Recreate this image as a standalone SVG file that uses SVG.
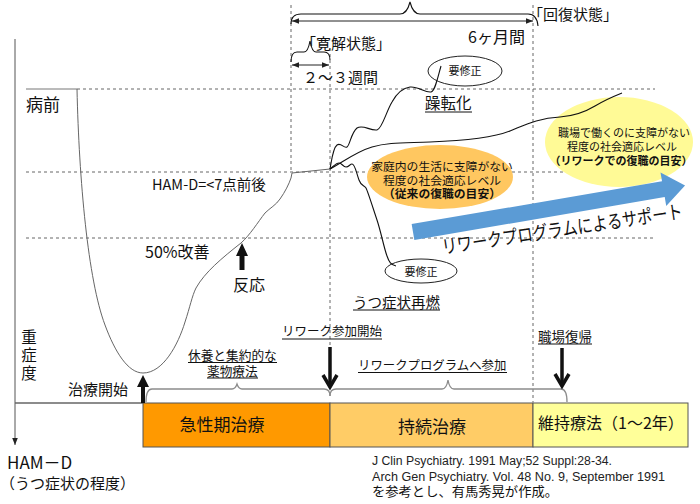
<svg xmlns="http://www.w3.org/2000/svg" width="700" height="504" viewBox="0 0 700 504">
<defs>
<marker id="ah" viewBox="0 0 10 10" refX="10" refY="5" markerWidth="7" markerHeight="7" markerUnits="userSpaceOnUse" orient="auto-start-reverse"><path d="M0,1 L10,5 L0,9 Z" fill="#222"/></marker>
<style>
.jp{font-family:"Noto Sans CJK JP","Noto Sans",sans-serif;fill:#111}
.lat{font-family:"Liberation Sans",Arial,sans-serif;fill:#222}
.dash{stroke:#666;stroke-width:1;stroke-dasharray:3,3;fill:none}
.curve{stroke:#111;stroke-width:1.1;fill:none}
.ucurve{stroke:#666;stroke-width:1;fill:none}
.brace{stroke:#8c8c8c;stroke-width:1.3;fill:none}
.ul{stroke:#111;stroke-width:1}
.box{stroke:#555;stroke-width:1}
.mid{text-anchor:middle}
</style>
</defs>
<rect width="700" height="504" fill="#fff"/>

<g id="grid">
<line x1="26" y1="89" x2="77" y2="89" stroke="#777" stroke-width="1"/>
<line class="dash" x1="77" y1="89" x2="655" y2="89"/>
<line class="dash" x1="26" y1="172" x2="655" y2="172"/>
<line class="dash" x1="26" y1="238" x2="655" y2="238"/>
<line class="dash" x1="291" y1="5" x2="291" y2="172"/>
<line class="dash" x1="330" y1="48" x2="330" y2="347"/>
<line class="dash" x1="533" y1="5" x2="533" y2="402"/>
</g>

<g id="axis">
<line x1="15" y1="39" x2="15" y2="445" stroke="#555" stroke-width="1" marker-end="url(#ah)"/>
<line x1="15" y1="403" x2="143" y2="403" stroke="#666" stroke-width="1.5"/>
</g>

<g id="ellipse-home">
<ellipse cx="440" cy="177" rx="73" ry="32" fill="#FFC760"/>
<text class="jp mid" x="442" y="171" font-size="11.8">家庭内の生活に支障がない</text>
<text class="jp mid" x="442" y="184.5" font-size="11.8">程度の社会適応レベル</text>
<text class="jp mid" x="442" y="198" font-size="11.8" font-weight="bold">（従来の復職の目安）</text>
</g>

<g id="ellipse-work">
<ellipse cx="619" cy="142" rx="74" ry="45" fill="#FFFA96"/>
<text class="jp mid" x="624" y="137" font-size="11">職場で働くのに支障がない</text>
<text class="jp mid" x="622" y="151" font-size="11">程度の社会適応レベル</text>
<text class="jp mid" x="621" y="164.5" font-size="11" font-weight="bold">（リワークでの復職の目安）</text>
</g>

<g id="box-acute">
<rect class="box" x="143" y="403" width="187" height="44" fill="#FF9900"/>
<text class="jp mid" x="222" y="431" font-size="17">急性期治療</text>
</g>
<g id="box-continue">
<rect class="box" x="330" y="403" width="203" height="44" fill="#FFCC66"/>
<text class="jp mid" x="432" y="433" font-size="17">持続治療</text>
</g>
<g id="box-maintain">
<rect class="box" x="533" y="403" width="155" height="44" fill="#FFFF99"/>
<text class="jp mid" x="611" y="429" font-size="16">維持療法（1～2年）</text>
</g>

<g id="connectors">
<path class="ucurve" d="M77,89 C79,180 88,280 105,325 C115,352 128,373 143,373 C163,373 178,345 185,322 C190,307 192,296 196,288 C205,272 222,258 241,243 C250,235 258,222 265,213 C270,208 276,205 280,199 C285,192 289,184 291,178 L292,173 L330,169"/>
<path class="curve" d="M330,169 C332,158 333,148 337,145 C341,142 344,149 347,147 C350,145 351,133 357,128 C363,124 370,131 377,130 C382,129 386,112 392,102 C397,93 402,88 410,87 C418,86 425,93 431,92 C435,91 437,80 441,66"/>
<path class="curve" d="M330,169 C342,163 355,152 372,147 C388,142 405,143 430,142 C460,141 490,139 510,131 C525,125 538,118 560,117 C575,116 585,112 595,106 C605,100 612,97 622,93"/>
<path class="curve" d="M330,169 C334,166 336,163 339,163 C342,163 343,167 346,167 C349,167 350,164 352,164 C355,164 356,172 359,180 C361,186 364,185 366,188 C368,192 372,205 377,220 C381,232 384,248 387,256 C389,262 391,265 396,266"/>
<path class="curve" stroke="#444" d="M291,24 Q291,14 301,14 L400,14 Q407,14 410,2 Q413,14 420,14 L528,14 Q537,14 538,26"/>
<line x1="292" y1="21" x2="533" y2="21" stroke="#222" stroke-width="1" marker-start="url(#ah)" marker-end="url(#ah)"/>
<path class="curve" stroke="#444" d="M291,62 Q291,52 297,52 L304,52 Q308,52 310,41 Q312,52 316,52 L324,52 Q330,52 330,60"/>
<line x1="292" y1="65" x2="329" y2="65" stroke="#222" stroke-width="1" marker-start="url(#ah)" marker-end="url(#ah)"/>
<path class="brace" d="M146,402 C146,392 148,389 152,389 L232,389 C235,389 236,387 237,384 C238,387 239,389 242,389 L324,389 C328,389 330,392 330,396"/>
<path class="brace" d="M330,396 C330,392 332,389 336,389 L442,389 C445,389 447,386 448,380 C449,386 451,389 454,389 L561,389 C565,389 567,393 567,402"/>
<path d="M143,375 L149,387 L145,387 L145,403 L141,403 L141,387 L137,387 Z" fill="#111"/>
<path d="M242,243 L248,256 L244.5,256 L244.5,270 L239.5,270 L239.5,256 L236,256 Z" fill="#111"/>
<line x1="330" y1="347" x2="330" y2="385" stroke="#111" stroke-width="3.5"/>
<polyline points="323,375 330,387 337,375" fill="none" stroke="#111" stroke-width="3.5"/>
<line x1="562" y1="348" x2="562" y2="384" stroke="#111" stroke-width="3.5"/>
<polyline points="555,374 562,386 569,374" fill="none" stroke="#111" stroke-width="3.5"/>
</g>

<g id="support-arrow">
<path transform="translate(413,232) rotate(-9.7)" d="M0,-8 L254,-8 L254,-17 L276,0 L254,17 L254,8 L0,8 Z" fill="#5B9BD5"/>
<text class="jp" transform="translate(443,254) rotate(-8.5)" x="0" y="0" font-size="19" textLength="243" lengthAdjust="spacingAndGlyphs">リワークプログラムによるサポート</text>
</g>

<g id="ellipse-mania">
<ellipse cx="465" cy="71" rx="37" ry="15" fill="none" stroke="#222" stroke-width="1"/>
<text class="jp mid" x="465" y="75" font-size="11">要修正</text>
</g>
<g id="ellipse-relapse">
<ellipse cx="421" cy="271" rx="36" ry="12" fill="none" stroke="#222" stroke-width="1"/>
<text class="jp mid" x="421" y="276" font-size="11">要修正</text>
</g>

<g id="labels">
<text class="jp" x="528" y="19.5" font-size="15">「回復状態」</text>
<text class="jp" x="525" y="43" font-size="16" text-anchor="end">6ヶ月間</text>
<text class="jp" x="301" y="49" font-size="15">「寛解状態」</text>
<text class="jp" x="303" y="83" font-size="15">２～３週間</text>
<text class="jp" x="26" y="111" font-size="17">病前</text>
<text class="jp" x="425" y="109" font-size="15.5">躁転化</text>
<line class="ul" x1="425" y1="112" x2="472" y2="112"/>
<text class="jp" x="152" y="190" font-size="14.5">HAM-D=&lt;7点前後</text>
<text class="jp" x="145" y="258" font-size="16">50%改善</text>
<text class="jp mid" x="249" y="291" font-size="16">反応</text>
<text class="jp" x="353" y="307.5" font-size="14.5">うつ症状再燃</text>
<line class="ul" x1="353" y1="310" x2="440" y2="310"/>
<text class="jp" x="282" y="336" font-size="12.5">リワーク参加開始</text>
<line class="ul" x1="282" y1="339" x2="382" y2="339"/>
<text class="jp" x="538" y="341.5" font-size="13.5">職場復帰</text>
<line class="ul" x1="538" y1="344" x2="592" y2="344"/>
<text class="jp" x="188" y="360" font-size="12.7">休養と集約的な</text>
<line class="ul" x1="188" y1="362.5" x2="277" y2="362.5"/>
<text class="jp" x="207" y="375.5" font-size="12.7">薬物療法</text>
<line class="ul" x1="207" y1="378" x2="258" y2="378"/>
<text class="jp" x="358" y="370" font-size="12.4">リワークプログラムへ参加</text>
<line class="ul" x1="358" y1="372.5" x2="507" y2="372.5"/>
<text class="jp" x="68" y="395" font-size="15">治療開始</text>
<text class="jp mid" x="29" y="343" font-size="15.5">重</text>
<text class="jp mid" x="29" y="361" font-size="15.5">症</text>
<text class="jp mid" x="29" y="379" font-size="15.5">度</text>
<text class="jp" x="7" y="469" font-size="17">HAM－D</text>
<text class="jp" x="0" y="488.5" font-size="15">（うつ症状の程度）</text>
<text class="lat" x="372" y="465" font-size="12.5" textLength="240" lengthAdjust="spacingAndGlyphs">J Clin Psychiatry. 1991 May;52 Suppl:28-34.</text>
<text class="lat" x="372" y="481" font-size="12.5" textLength="293" lengthAdjust="spacingAndGlyphs">Arch Gen Psychiatry. Vol. 48 No. 9, September 1991</text>
<text class="jp" x="372" y="496" font-size="13" textLength="186" lengthAdjust="spacingAndGlyphs">を参考とし、有馬秀晃が作成。</text>
</g>
</svg>
